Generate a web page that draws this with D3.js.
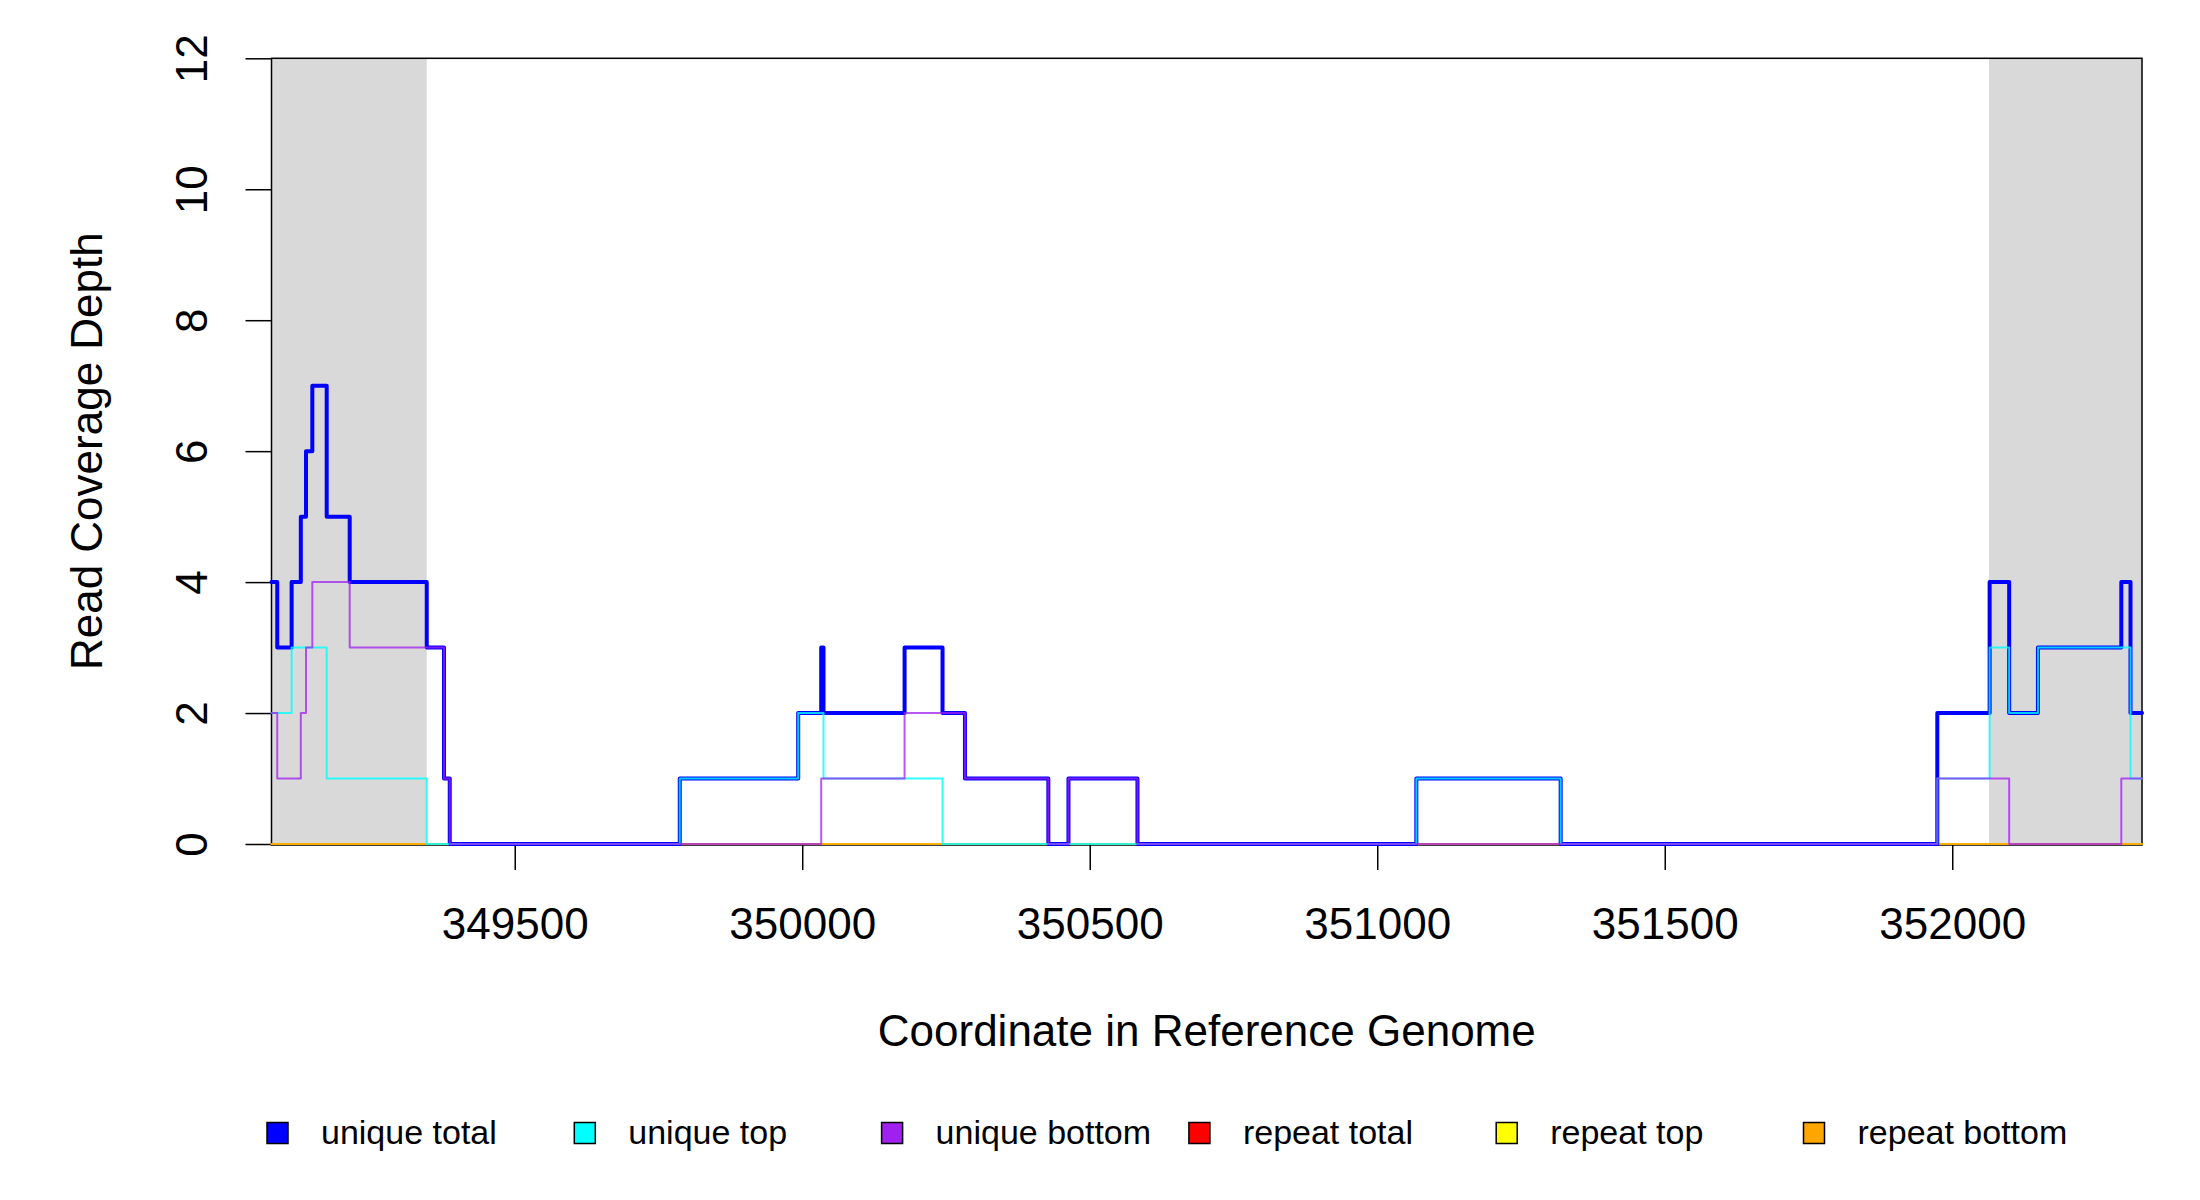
<!DOCTYPE html>
<html>
<head>
<meta charset="utf-8">
<script src="https://cdn.jsdelivr.net/npm/d3@7/dist/d3.min.js"></script>
<style>
  html, body { margin: 0; padding: 0; background: #fff; }
  svg text { font-family: "Liberation Sans", Arial, sans-serif; fill: #000; }
</style>
</head>
<body>
<svg id="chart" width="2200" height="1200"></svg>
<script>
// ---------------- data ----------------
const xDomain = [349077, 352330];
const yDomain = [0, 12];
const xTicks = [349500, 350000, 350500, 351000, 351500, 352000];
const yTicks = [0, 2, 4, 6, 8, 10, 12];
const flankRegions = [[349077, 349347], [352064, 352330]];

const uniqueTotalX = [349077, 349087, 349112, 349128, 349137, 349148, 349173, 349213, 349347, 349377, 349387,
                      349787, 349993, 350033, 350037, 350178, 350244, 350283, 350428, 350463, 350583,
                      351068, 351319, 351974, 352065, 352099, 352149, 352294, 352310, 352330];
const uniqueTotalY = [4, 3, 4, 5, 6, 7, 5, 4, 3, 1, 0,
                      1, 2, 3, 2, 3, 2, 1, 0, 1, 0,
                      1, 0, 2, 4, 2, 3, 4, 2, 2];

const uniqueTopX = [349077, 349112, 349173, 349347, 349787, 349993, 350037, 350244,
                    351068, 351319, 351974, 352065, 352099, 352149, 352310, 352330];
const uniqueTopY = [2, 3, 1, 0, 1, 2, 1, 0,
                    1, 0, 1, 3, 2, 3, 1, 1];

const uniqueBottomX = [349077, 349087, 349128, 349137, 349148, 349213, 349377, 349387,
                       350033, 350178, 350283, 350428, 350463, 350583,
                       351974, 352099, 352294, 352330];
const uniqueBottomY = [2, 1, 2, 3, 4, 3, 1, 0,
                       1, 2, 1, 0, 1, 0,
                       1, 0, 1, 1];

const repeatTotalX = [349077, 352330];
const repeatTotalY = [0, 0];
const repeatTopX = [349077, 352330];
const repeatTopY = [0, 0];
const repeatBottomX = [349077, 352330];
const repeatBottomY = [0, 0];

const legendLabels = ["unique total", "unique top", "unique bottom", "repeat total", "repeat top", "repeat bottom"];
const legendColors = ["#0000FF", "#00FFFF", "#A020F0", "#FF0000", "#FFFF00", "#FFA500"];

const xTitle = "Coordinate in Reference Genome";
const yTitle = "Read Coverage Depth";

// ---------------- layout ----------------
const svg = d3.select("#chart");
const plotL = 271.5, plotR = 2142, plotT = 58.3, plotB = 844;

const x = d3.scaleLinear().domain(xDomain).range([plotL, plotR]);
const y = d3.scaleLinear().domain(yDomain).range([plotB, plotT]);

// grey flank regions
svg.append("g").selectAll("rect").data(flankRegions).join("rect")
  .attr("x", d => x(d[0])).attr("y", y(12))
  .attr("width", d => x(d[1]) - x(d[0]))
  .attr("height", y(0) - y(12))
  .attr("fill", "#D9D9D9");

// box
svg.append("rect")
  .attr("x", plotL).attr("y", plotT)
  .attr("width", plotR - plotL).attr("height", plotB - plotT + 1)
  .attr("fill", "none").attr("stroke", "#000").attr("stroke-width", 1.5);

// axes
const yAxis = d3.axisLeft(y).tickValues(yTicks).tickSize(26).tickPadding(0).tickFormat(d3.format("d"));
const gy = svg.append("g").attr("transform", `translate(${plotL},0)`).call(yAxis);
gy.select(".domain").remove();
gy.selectAll(".tick line").attr("stroke", "#000").attr("stroke-width", 1.5);
gy.selectAll(".tick text")
  .attr("x", null).attr("dy", null)
  .attr("transform", "translate(-64.5,0) rotate(-90)")
  .attr("text-anchor", "middle")
  .style("font-size", "44px")
  .style("font-family", "Liberation Sans, Arial, sans-serif");

const xAxis = d3.axisBottom(x).tickValues(xTicks).tickSize(26).tickPadding(0).tickFormat(d3.format("d"));
const gx = svg.append("g").attr("transform", `translate(0,${plotB})`).call(xAxis);
gx.select(".domain").remove();
gx.selectAll(".tick line").attr("stroke", "#000").attr("stroke-width", 1.5);
gx.selectAll(".tick text")
  .attr("y", 95).attr("dy", null)
  .attr("text-anchor", "middle")
  .style("font-size", "44px")
  .style("font-family", "Liberation Sans, Arial, sans-serif");

// titles
svg.append("text").attr("x", (plotL + plotR) / 2).attr("y", 1046)
  .attr("text-anchor", "middle").style("font-size", "44px").text(xTitle);
svg.append("text").attr("transform", `translate(102,${(plotT + plotB) / 2}) rotate(-90)`)
  .attr("text-anchor", "middle").style("font-size", "44px").text(yTitle);

// lines
const line = d3.line().x(d => x(d[0])).y(d => y(d[1])).curve(d3.curveStepAfter);
const zip = (xs, ys) => xs.map((v, i) => [v, ys[i]]);
const series = [
  { xs: repeatTotalX, ys: repeatTotalY, color: legendColors[3], w: 2, op: 0.7 },
  { xs: repeatTopX, ys: repeatTopY, color: legendColors[4], w: 2, op: 0.7 },
  { xs: repeatBottomX, ys: repeatBottomY, color: legendColors[5], w: 2, op: 0.7 },
  { xs: uniqueTotalX, ys: uniqueTotalY, color: legendColors[0], w: 4, op: 1 },
  { xs: uniqueTopX, ys: uniqueTopY, color: legendColors[1], w: 2, op: 0.8 },
  { xs: uniqueBottomX, ys: uniqueBottomY, color: legendColors[2], w: 2, op: 0.75 }
];
svg.append("g").selectAll("path").data(series).join("path")
  .attr("d", s => line(zip(s.xs, s.ys)))
  .attr("fill", "none")
  .attr("stroke", s => s.color)
  .attr("stroke-width", s => s.w)
  .attr("stroke-opacity", s => s.op)
  .attr("stroke-linejoin", "round")
  .attr("stroke-linecap", "round");

// legend
const legendX0 = 267, legendDX = 307.3, legendBoxY = 1122.5, box = 21;
const lg = svg.append("g").selectAll("g").data(legendLabels).join("g")
  .attr("transform", (d, i) => `translate(${legendX0 + i * legendDX},${legendBoxY})`);
lg.append("rect").attr("width", box).attr("height", box)
  .attr("fill", (d, i) => legendColors[i]).attr("stroke", "#000").attr("stroke-width", 1.5);
lg.append("text").attr("x", 54).attr("y", 21.5).style("font-size", "34px").text(d => d);
</script>
</body>
</html>
